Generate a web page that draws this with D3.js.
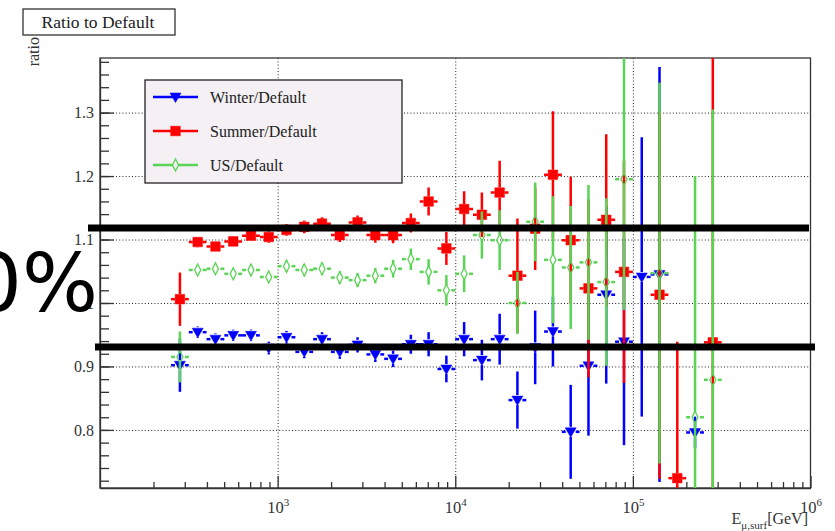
<!DOCTYPE html>
<html>
<head>
<meta charset="utf-8">
<script src="https://cdn.jsdelivr.net/npm/d3@7"></script>
<style>
  body { margin: 0; background: #fff; }
  svg { display: block; }
</style>
</head>
<body>
<svg id="chart" width="835" height="531"></svg>
<script>
// Bin centres in log10(E / GeV)
const binLog10E = [2.45, 2.55, 2.65, 2.75, 2.85, 2.95, 3.05, 3.15, 3.25, 3.35,
                   3.45, 3.55, 3.65, 3.75, 3.85, 3.95, 4.05, 4.15, 4.25, 4.35,
                   4.45, 4.55, 4.65, 4.75, 4.85, 4.95, 5.05, 5.15, 5.25, 5.35, 5.45];
const binHalfWidth = 0.05;

// Winter / Default
const winter = [0.902, 0.954, 0.943, 0.949, 0.949, 0.929, 0.946, 0.923, 0.943, 0.923,
                0.934, 0.919, 0.912, 0.935, 0.935, 0.896, 0.943, 0.910, 0.943, 0.847,
                0.930, 0.955, 0.797, 0.901, 1.013, 0.939, 1.041, 1.045, null, 0.796, null];
const winterErr = [0.042, 0.009, 0.009, 0.009, 0.009, 0.010, 0.010, 0.010, 0.011, 0.011,
                   0.012, 0.012, 0.013, 0.015, 0.019, 0.021, 0.027, 0.032, 0.040, 0.045,
                   0.058, 0.055, 0.074, 0.110, 0.140, 0.163, 0.220, 0.327, null, 0.025, null];

// Summer / Default
const summer = [1.006, 1.096, 1.089, 1.097, 1.106, 1.104, 1.115, 1.120, 1.125, 1.107,
                1.127, 1.107, 1.107, 1.126, 1.160, 1.086, 1.148, 1.139, 1.174, 1.043,
                1.117, 1.202, 1.099, 1.023, 1.131, 1.049, null, 1.013, 0.724, null, 0.938];
const summerErr = [0.042, 0.008, 0.008, 0.008, 0.008, 0.009, 0.009, 0.010, 0.010, 0.011,
                   0.011, 0.012, 0.013, 0.015, 0.022, 0.026, 0.028, 0.035, 0.050, 0.090,
                   0.065, 0.100, 0.100, 0.140, 0.135, 0.175, null, 0.290, 0.215, null, 0.500];

// US / Default
const us = [0.915, 1.052, 1.054, 1.046, 1.052, 1.041, 1.058, 1.052, 1.054, 1.040,
            1.036, 1.043, 1.054, 1.069, 1.049, 1.020, 1.046, 1.107, 1.099, 1.000,
            1.128, 1.068, 1.056, 1.064, 1.033, 1.195, null, 1.047, null, 0.820, 0.879];
const usErr = [0.040, 0.007, 0.007, 0.008, 0.008, 0.008, 0.009, 0.009, 0.010, 0.010,
               0.011, 0.012, 0.014, 0.017, 0.020, 0.024, 0.029, 0.037, 0.047, 0.049,
               0.062, 0.100, 0.097, 0.122, 0.132, 0.206, null, 0.300, null, 0.380, 0.426];

const seriesNames = ["Winter/Default", "Summer/Default", "US/Default"];
const seriesColors = ["#0000ff", "#ff0000", "#59d454"];

// Axis ticks and labels
const yTicks = [0.8, 0.9, 1.0, 1.1, 1.2, 1.3];
const yTickLabels = ["0.8", "0.9", "1", "1.1", "1.2", "1.3"];
const xDecades = [1e3, 1e4, 1e5, 1e6];
const xDecadeExponents = ["3", "4", "5", "6"];
const xDomain = [1e2, 1e6];
const yDomain = [0.7085, 1.386];

// Reference band lines and their label
const bandLevels = [1.118, 0.9307];
const bandLabel = "10%";

// ---------------------------------------------------------------
const svg = d3.select("#chart");
const frame = { left: 100, right: 810.5, top: 58, bottom: 488 };

const x = d3.scaleLog().domain(xDomain).range([frame.left, frame.right]);
const y = d3.scaleLinear().domain(yDomain).range([frame.bottom, frame.top]);

const serif = "'Liberation Serif', 'Times New Roman', serif";

svg.append("rect").attr("width", 835).attr("height", 531).attr("fill", "#fff");

// Grid (dotted) at major ticks
const gridStyle = g => g.selectAll("line")
  .attr("stroke", "#222").attr("stroke-width", 1).attr("stroke-dasharray", "1,2.2");

svg.append("g")
  .attr("transform", `translate(0,${frame.bottom})`)
  .call(d3.axisBottom(x).tickValues(xDecades.slice(0, 3)).tickSize(-(frame.bottom - frame.top)).tickFormat(""))
  .call(g => g.select(".domain").remove())
  .call(gridStyle);

svg.append("g")
  .attr("transform", `translate(${frame.left},0)`)
  .call(d3.axisLeft(y).tickValues(yTicks).tickSize(-(frame.right - frame.left)).tickFormat(""))
  .call(g => g.select(".domain").remove())
  .call(gridStyle);

// Frame
svg.append("rect")
  .attr("x", frame.left).attr("y", frame.top)
  .attr("width", frame.right - frame.left).attr("height", frame.bottom - frame.top)
  .attr("fill", "none").attr("stroke", "#333").attr("stroke-width", 1.3);

// Y axis: minor and major ticks pointing into the frame
const yMinor = d3.range(0.72, 1.385, 0.02).map(v => +v.toFixed(2));
svg.append("g")
  .attr("transform", `translate(${frame.left},0)`)
  .call(d3.axisLeft(y).tickValues(yMinor).tickSizeInner(-9).tickSizeOuter(0).tickFormat(""))
  .call(g => g.select(".domain").remove())
  .call(g => g.selectAll("line").attr("stroke", "#333").attr("stroke-width", 1.3));

svg.append("g")
  .attr("transform", `translate(${frame.left},0)`)
  .call(d3.axisLeft(y).tickValues(yTicks).tickSizeInner(-14).tickSizeOuter(0).tickPadding(6)
        .tickFormat((d, i) => yTickLabels[i]))
  .call(g => g.select(".domain").attr("stroke", "#333").attr("stroke-width", 1.3))
  .call(g => g.selectAll("line").attr("stroke", "#333").attr("stroke-width", 1.3))
  .call(g => g.selectAll("text").attr("font-family", serif).attr("font-size", 16).attr("fill", "#333"));

// X axis: minor ticks at 2..9 of each decade, major at decades
const xMinor = [];
for (let d = 100; d < 1e6; d *= 10) for (let m = 2; m <= 9; m++) xMinor.push(m * d);
svg.append("g")
  .attr("transform", `translate(0,${frame.bottom})`)
  .call(d3.axisBottom(x).tickValues(xMinor).tickSizeInner(-6).tickSizeOuter(0).tickFormat(""))
  .call(g => g.select(".domain").remove())
  .call(g => g.selectAll("line").attr("stroke", "#333").attr("stroke-width", 1.3));

svg.append("g")
  .attr("transform", `translate(0,${frame.bottom})`)
  .call(d3.axisBottom(x).tickValues(xDecades).tickSizeInner(-12).tickSizeOuter(0).tickPadding(13).tickFormat(""))
  .call(g => g.select(".domain").attr("stroke", "#333").attr("stroke-width", 1.3))
  .call(g => g.selectAll("line").attr("stroke", "#333").attr("stroke-width", 1.3))
  .call(g => g.selectAll(".tick").each(function (d, i) {
    const t = d3.select(this).append("text")
      .attr("y", 25).attr("text-anchor", "middle")
      .attr("font-family", serif).attr("font-size", 16.5).attr("fill", "#333");
    t.append("tspan").text("10");
    t.append("tspan").attr("dy", -7).attr("font-size", 11).text(xDecadeExponents[i]);
  }));

// Axis titles
const xTitle = svg.append("text")
  .attr("x", 808).attr("y", 524).attr("text-anchor", "end")
  .attr("font-family", serif).attr("font-size", 16).attr("fill", "#333");
xTitle.append("tspan").text("E");
xTitle.append("tspan").attr("dy", 5).attr("font-size", 11).text("\u03bc,surf");
xTitle.append("tspan").attr("dy", -5).text("[GeV]");

svg.append("text")
  .attr("transform", "translate(39,37) rotate(-90)")
  .attr("text-anchor", "end")
  .attr("font-family", serif).attr("font-size", 16).attr("fill", "#333")
  .text("ratio");

// Title box
svg.append("rect").attr("x", 23).attr("y", 9).attr("width", 152).attr("height", 26)
  .attr("fill", "#fff").attr("stroke", "#222").attr("stroke-width", 1.2);
svg.append("text").attr("x", 98).attr("y", 28).attr("text-anchor", "middle")
  .attr("font-family", serif).attr("font-size", 17.5).attr("fill", "#222")
  .text("Ratio to Default");

// Data: error bars with a gap around the marker, then markers
svg.append("clipPath").attr("id", "plot-clip")
  .append("rect").attr("x", frame.left).attr("y", frame.top)
  .attr("width", frame.right - frame.left).attr("height", frame.bottom - frame.top);
const plot = svg.append("g").attr("clip-path", "url(#plot-clip)");

const markerPaths = [
  "M-5.5,-4 L5.5,-4 L0,5.5 Z",              // filled triangle down
  "M-4.8,-4.8 H4.8 V4.8 H-4.8 Z",           // filled square
  "M0,-6 L3,0 L0,6 L-3,0 Z"                 // open diamond
];
const markerGaps = [5, 5, 5];
const markerFill = [true, true, false];

function buildPoints(values, errs) {
  return binLog10E.map((lg, i) => ({ lg, v: values[i], e: errs[i] }))
    .filter(p => p.v !== null);
}

const allSeries = [
  buildPoints(winter, winterErr),
  buildPoints(summer, summerErr),
  buildPoints(us, usErr)
];

allSeries.forEach((pts, s) => {
  const color = seriesColors[s];
  const gap = markerGaps[s];
  const g = plot.append("g");
  pts.forEach(p => {
    const cx = x(Math.pow(10, p.lg));
    const cy = y(p.v);
    const xl = x(Math.pow(10, p.lg - binHalfWidth));
    const xr = x(Math.pow(10, p.lg + binHalfWidth));
    const yt = y(p.v + p.e);
    const yb = y(p.v - p.e);
    const segs = [];
    if (cx - gap > xl) segs.push([xl, cy, cx - gap, cy]);
    if (xr > cx + gap) segs.push([cx + gap, cy, xr, cy]);
    if (cy - gap > yt) segs.push([cx, yt, cx, cy - gap]);
    if (yb > cy + gap) segs.push([cx, cy + gap, cx, yb]);
    segs.forEach(sg => g.append("line")
      .attr("x1", sg[0]).attr("y1", sg[1]).attr("x2", sg[2]).attr("y2", sg[3])
      .attr("stroke", color).attr("stroke-width", 2.5));
    g.append("path").attr("d", markerPaths[s])
      .attr("transform", `translate(${cx},${cy})`)
      .attr("fill", markerFill[s] ? color : "none")
      .attr("stroke", color).attr("stroke-width", markerFill[s] ? 0.5 : 1.3);
  });
});

// Legend
const legend = svg.append("g");
legend.append("rect").attr("x", 145).attr("y", 80).attr("width", 257).attr("height", 103)
  .attr("fill", "#f4f0f4").attr("stroke", "#222").attr("stroke-width", 1.3);
seriesNames.forEach((name, i) => {
  const ly = 97 + i * 34;
  legend.append("line").attr("x1", 153).attr("x2", 198).attr("y1", ly).attr("y2", ly)
    .attr("stroke", seriesColors[i]).attr("stroke-width", 2.5);
  legend.append("path").attr("d", markerPaths[i])
    .attr("transform", `translate(175.5,${ly})`)
    .attr("fill", markerFill[i] ? seriesColors[i] : "#f4f0f4")
    .attr("stroke", seriesColors[i]).attr("stroke-width", markerFill[i] ? 0.5 : 1.3);
  legend.append("text").attr("x", 210).attr("y", ly + 6)
    .attr("font-family", serif).attr("font-size", 16).attr("fill", "#222")
    .text(name);
});

// Reference band lines
const bandExtents = [[88, 809], [95, 815]];
bandLevels.forEach((lvl, i) => {
  svg.append("line")
    .attr("x1", bandExtents[i][0]).attr("x2", bandExtents[i][1])
    .attr("y1", y(lvl)).attr("y2", y(lvl))
    .attr("stroke", "#000").attr("stroke-width", 7);
});

svg.append("text")
  .attr("x", 98).attr("y", 311).attr("text-anchor", "end")
  .attr("font-family", "'DejaVu Sans', sans-serif").attr("font-size", 80)
  .attr("fill", "#000")
  .text(bandLabel);
</script>
</body>
</html>
